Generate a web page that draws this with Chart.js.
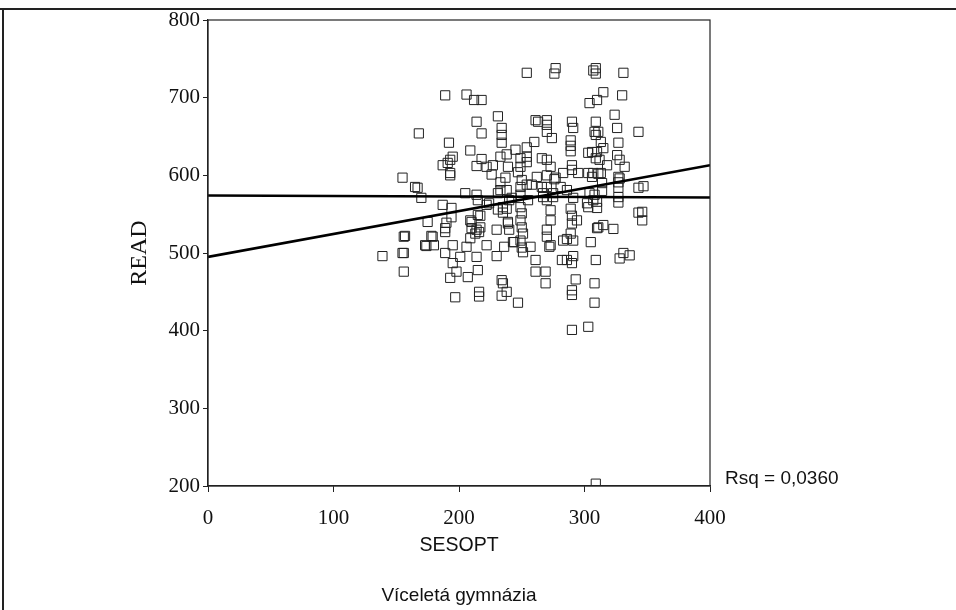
<!DOCTYPE html>
<html>
<head>
<meta charset="utf-8">
<title>READ vs SESOPT</title>
<script src="https://cdn.jsdelivr.net/npm/chart.js@4.4.1/dist/chart.umd.min.js"></script>
<style>
  html, body { margin: 0; padding: 0; background: #fff; }
  canvas { display: block; }
</style>
</head>
<body>
<canvas id="scatter" width="956" height="610"></canvas>
<script>
// --- data ---
const sesopt = [
  254,277,276,309,309,307,331,189,206,212,218,304,310,315,330,168,214,231,218,234,
  234,234,261,263,270,270,270,274,290,291,309,308,309,311,313,324,326,343,192,209,
  260,254,289,289,289,327,195,191,193,187,193,218,214,222,227,233,238,239,245,249,
  249,247,254,254,266,270,273,226,262,270,277,283,290,290,295,303,307,313,306,310,
  309,312,318,303,315,326,328,332,327,327,327,327,327,343,347,343,346,346,323,331,
  336,328,155,165,167,170,193,237,250,254,258,249,266,270,281,267,275,306,314,314,
  286,291,302,307,304,308,310,310,303,233,238,233,231,205,214,215,224,240,242,249,
  255,267,270,275,187,194,194,175,189,189,157,178,173,180,189,195,155,201,206,209,
  210,215,214,222,214,230,222,231,238,209,210,217,216,217,239,235,235,239,240,244,
  249,250,249,250,251,249,250,251,257,273,273,270,270,273,289,290,290,289,291,294,
  283,305,311,315,310,139,156,156,156,174,179,236,243,261,272,282,286,291,290,309,
  230,195,198,193,207,215,197,216,216,234,235,234,238,247,261,269,269,293,290,290,
  308,308,290,303,309,286,190,213,328,311,276
];
const read = [
  732,738,731,738,731,735,732,703,704,697,697,693,697,707,703,654,669,676,654,661,
  652,642,671,669,671,665,656,648,669,661,669,656,652,656,643,678,661,656,642,632,
  643,636,645,638,631,642,624,616,603,613,620,621,612,611,613,624,627,611,633,622,
  611,604,624,617,622,620,611,601,598,600,597,603,613,607,603,603,603,603,630,630,
  622,620,613,629,635,626,620,611,598,591,584,572,565,584,586,552,553,542,531,500,
  497,493,597,585,584,571,600,597,594,588,588,585,585,585,585,572,572,598,590,580,
  581,571,564,568,577,575,566,558,559,591,581,581,577,577,575,568,564,568,571,575,
  568,577,568,577,562,558,546,540,532,527,522,522,510,510,500,510,500,495,508,519,
  540,549,530,510,495,530,562,556,557,542,532,533,527,548,540,559,552,538,530,514,
  559,551,542,533,525,516,507,501,508,555,542,530,521,510,557,548,538,525,516,542,
  516,514,533,536,532,496,521,500,476,509,521,508,514,491,508,491,491,496,487,491,
  496,487,476,468,469,478,443,450,444,465,461,445,450,436,476,476,461,466,452,446,
  461,436,401,405,203,518,539,525,596,602,595
];
const lineX = [0, 400];
const fitLine = [495, 613];     // linear fit, Rsq = 0,0360
const meanLine = [574, 571.5];  // horizontal reference line
const xTicks = [0, 100, 200, 300, 400];
const yTicks = [200, 300, 400, 500, 600, 700, 800];

const points = sesopt.map((x, i) => ({ x: x, y: read[i] }));
const fitPts = lineX.map((x, i) => ({ x: x, y: fitLine[i] }));
const meanPts = lineX.map((x, i) => ({ x: x, y: meanLine[i] }));

const serif = "'Liberation Serif', 'DejaVu Serif', serif";
const sans = "'Liberation Sans', Arial, sans-serif";

// frame, axis titles and notes drawn on top of the chart
const decorations = {
  id: 'decorations',
  beforeDraw(chart) {
    const c = chart.ctx;
    c.save();
    c.fillStyle = '#fff';
    c.fillRect(0, 0, chart.width, chart.height);
    c.restore();
  },
  afterDraw(chart) {
    const c = chart.ctx;
    const a = chart.chartArea;
    c.save();
    // plot box
    c.strokeStyle = '#222';
    c.lineWidth = 1.2;
    c.strokeRect(a.left, a.top, a.right - a.left, a.bottom - a.top);
    // outer page frame (top + left edges visible)
    c.lineWidth = 2;
    c.beginPath();
    c.moveTo(0, 9); c.lineTo(chart.width, 9);
    c.moveTo(3, 9); c.lineTo(3, chart.height);
    c.stroke();

    c.fillStyle = '#111';
    c.textAlign = 'center';
    c.textBaseline = 'middle';
    const midX = (a.left + a.right) / 2;
    c.font = '19.5px ' + sans;
    c.fillText('SESOPT', midX, 546);
    c.font = '19px ' + sans;
    c.fillText('Víceletá gymnázia', midX, 596);
    c.textAlign = 'left';
    c.fillText('Rsq = 0,0360', 725, 479);

    c.translate(140, (a.top + a.bottom) / 2);
    c.rotate(-Math.PI / 2);
    c.textAlign = 'center';
    c.font = '24px ' + serif;
    c.fillText('READ', 0, 0);
    c.restore();
  }
};

const ctx = document.getElementById('scatter').getContext('2d');
new Chart(ctx, {
  type: 'scatter',
  data: {
    datasets: [{
      label: 'READ',
      data: points,
      pointStyle: 'rect',
      pointRadius: 6.5,
      pointBorderWidth: 1,
      borderColor: '#222',
      backgroundColor: 'rgba(0,0,0,0)',
      order: 2
    }, {
      label: 'fit',
      type: 'line',
      data: fitPts,
      borderColor: '#000',
      borderWidth: 2.6,
      pointRadius: 0,
      fill: false,
      order: 1
    }, {
      label: 'mean',
      type: 'line',
      data: meanPts,
      borderColor: '#000',
      borderWidth: 2.6,
      pointRadius: 0,
      fill: false,
      order: 1
    }]
  },
  options: {
    responsive: false,
    animation: false,
    layout: { padding: { top: 20, right: 246, left: 0, bottom: 0 } },
    plugins: {
      legend: { display: false },
      tooltip: { enabled: false }
    },
    scales: {
      x: {
        type: 'linear',
        min: 0,
        max: 400,
        afterFit: (s) => { s.height = 124; },
        afterBuildTicks: (s) => { s.ticks = xTicks.map(v => ({ value: v })); },
        border: { display: true, color: '#222', width: 1.2 },
        grid: { drawOnChartArea: false, drawTicks: true, tickLength: 6, color: '#222' },
        ticks: { color: '#111', padding: 14, font: { family: serif, size: 21 } }
      },
      y: {
        type: 'linear',
        min: 200,
        max: 800,
        afterFit: (s) => { s.width = 208; },
        afterBuildTicks: (s) => { s.ticks = yTicks.map(v => ({ value: v })); },
        border: { display: true, color: '#222', width: 1.2 },
        grid: { drawOnChartArea: false, drawTicks: true, tickLength: 5, color: '#222' },
        ticks: { color: '#111', padding: 3, font: { family: serif, size: 21 } }
      }
    }
  },
  plugins: [decorations]
});
</script>
</body>
</html>
